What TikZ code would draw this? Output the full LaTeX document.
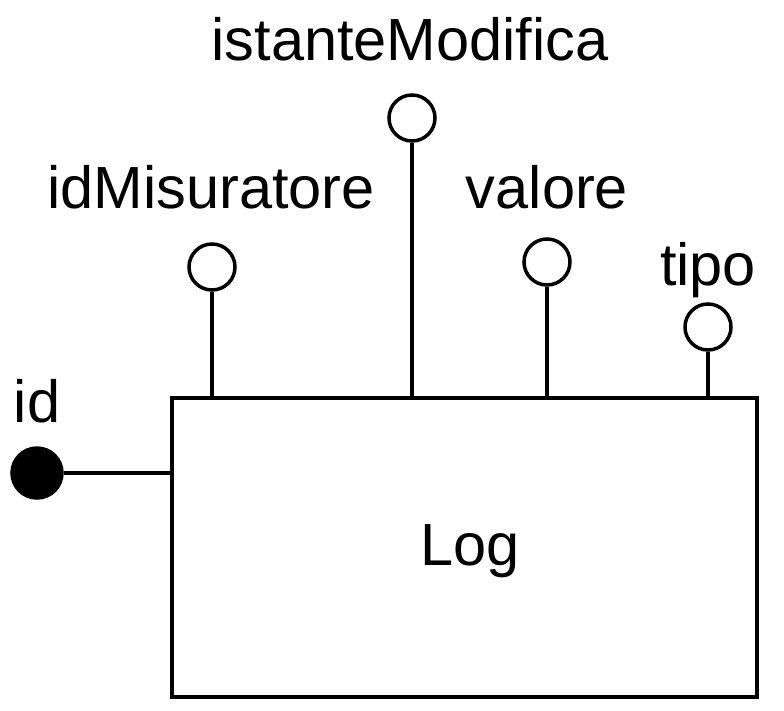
\documentclass[tikz,border=0pt]{standalone}
\usepackage{fontspec}
\setmainfont{Liberation Sans}
\begin{document}
\begin{tikzpicture}[x=1pt,y=-1pt,
  lbl/.style={font=\fontsize{59.5}{62}\selectfont, inner sep=0pt},
  attr/.style={circle, draw, line width=3.5pt, minimum size=46pt, inner sep=0pt, fill=white},
  key/.style={circle, draw, line width=3.5pt, minimum size=50pt, inner sep=0pt, fill=black},
  conn/.style={line width=3.5pt}]
\useasboundingbox (0,0) rectangle (784,710);
\draw[conn] (172,398) rectangle (757,697);
\coordinate (eL) at (172,473);
\coordinate (e1) at (212,398);
\coordinate (e2) at (412,398);
\coordinate (e3) at (547,398);
\coordinate (e4) at (708,398);
\node[lbl] (log) at (470,551) {Log};
\node[key] (id) at (37,473) {};
\node[attr] (a1) at (212,267) {};
\node[attr] (a2) at (412,118) {};
\node[attr] (a3) at (547,262) {};
\node[attr] (a4) at (708,327) {};
\draw[conn] (id) -- (eL);
\draw[conn] (a1) -- (e1);
\draw[conn] (a2) -- (e2);
\draw[conn] (a3) -- (e3);
\draw[conn] (a4) -- (e4);
\node[lbl, anchor=base] (lid) at (37,422) {id};
\node[lbl, anchor=base] (l1) at (211,208) {idMisuratore};
\node[lbl, anchor=base] (l2) at (410,60) {istanteModifica};
\node[lbl, anchor=base] (l3) at (547,208) {valore};
\node[lbl, anchor=base] (l4) at (708,285) {tipo};
\end{tikzpicture}
\end{document}
